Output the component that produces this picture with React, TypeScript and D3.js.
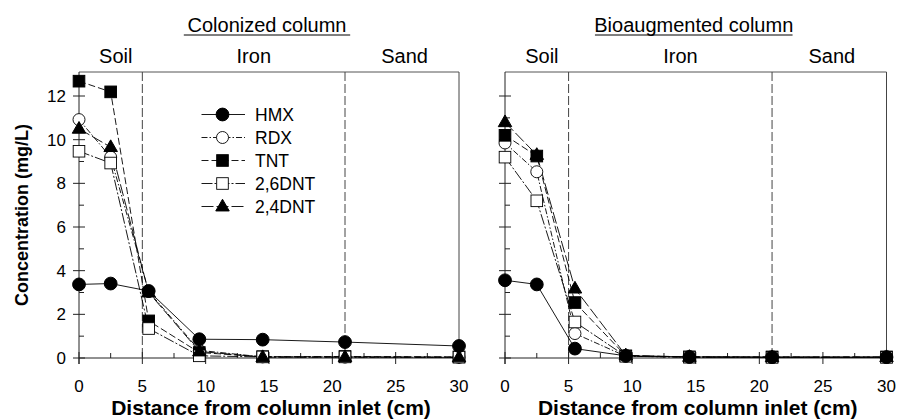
import React from "react";
import * as d3 from "d3";

const distances = [0, 2.5, 5.5, 9.5, 14.5, 21, 30];
const seriesNames = ["HMX", "RDX", "TNT", "2,6DNT", "2,4DNT"];

const colonizedHMX = [3.37, 3.41, 3.07, 0.86, 0.84, 0.73, 0.55];
const colonizedRDX = [10.92, 9.2, 3.05, 0.35, 0.05, 0.04, 0.03];
const colonizedTNT = [12.68, 12.19, 1.7, 0.25, 0.06, 0.07, 0.05];
const colonized26DNT = [9.47, 8.93, 1.35, 0.1, 0.05, 0.05, 0.04];
const colonized24DNT = [10.5, 9.66, 3.0, 0.3, 0.04, 0.04, 0.03];

const bioHMX = [3.56, 3.37, 0.43, 0.1, 0.05, 0.04, 0.04];
const bioRDX = [9.85, 8.53, 1.12, 0.08, 0.04, 0.03, 0.03];
const bioTNT = [10.2, 9.25, 2.54, 0.1, 0.05, 0.05, 0.05];
const bio26DNT = [9.2, 7.2, 1.65, 0.08, 0.04, 0.03, 0.03];
const bio24DNT = [10.8, 9.3, 3.18, 0.12, 0.05, 0.04, 0.04];

const xTicks = [0, 5, 10, 15, 20, 25, 30];
const yTicks = [0, 2, 4, 6, 8, 10, 12];
const zoneBoundaries = [5, 21];
const zoneLabels = ["Soil", "Iron", "Sand"];
const zoneCenters = [2.9, 13.8, 25.7];
const panelTitles = ["Colonized column", "Bioaugmented column"];

const W = 898;
const H = 419;
const FONT = "'Liberation Sans', Arial, Helvetica, sans-serif";

const markerKinds = ["circleFilled", "circleOpen", "squareFilled", "squareOpen", "triangleFilled"];
const dashes = ["none", "6,2,1.5,2", "7,3", "11,2,2,2", "12,3"];
// draw order: HMX last so it sits on top
const drawOrder = [1, 2, 3, 4, 0];

function Marker({ kind, x, y }: { kind: string; x: number; y: number }) {
  const stroke = "#000";
  if (kind === "circleFilled") return <circle cx={x} cy={y} r={6.4} fill="#000" stroke={stroke} />;
  if (kind === "circleOpen") return <circle cx={x} cy={y} r={6} fill="#fff" stroke={stroke} strokeWidth={0.9} />;
  if (kind === "squareFilled") return <rect x={x - 5.8} y={y - 5.8} width={11.6} height={11.6} fill="#000" stroke={stroke} />;
  if (kind === "squareOpen")
    return <rect x={x - 5.8} y={y - 5.8} width={11.6} height={11.6} fill="#fff" stroke={stroke} strokeWidth={0.9} />;
  const s = 13.5;
  const h = s * 0.866;
  const pts = `${x},${y - h * 0.62} ${x - s / 2},${y + h * 0.38} ${x + s / 2},${y + h * 0.38}`;
  return <polygon points={pts} fill="#000" stroke={stroke} />;
}

function Panel({
  x0,
  x1,
  title,
  data,
  showYLabels,
  showLegend,
}: {
  x0: number;
  x1: number;
  title: string;
  data: number[][];
  showYLabels: boolean;
  showLegend: boolean;
}) {
  const x = d3.scaleLinear().domain([0, 30]).range([x0, x1]);
  const y = d3.scaleLinear().domain([0, 13.1]).range([358, 72]);
  const yTop = y(13.1);
  const yBot = y(0);
  const line = d3
    .line<[number, number]>()
    .x((d) => x(d[0]))
    .y((d) => y(d[1]));
  const minorX = d3.range(2.5, 30, 5);
  const minorY = d3.range(1, 13, 2);
  const cx = (x0 + x1) / 2;
  const titleWidth = title.length * 10.4;
  return (
    <g>
      <text x={cx - 2} y={32} textAnchor="middle" fontSize={20} fontFamily={FONT}>
        {title}
      </text>
      <line x1={cx - 2 - titleWidth / 2} x2={cx - 2 + titleWidth / 2} y1={35} y2={35} stroke="#000" strokeWidth={1} />
      {zoneLabels.map((z, i) => (
        <text key={z} x={x(zoneCenters[i])} y={63} textAnchor="middle" fontSize={20} fontFamily={FONT}>
          {z}
        </text>
      ))}
      <line x1={x0} x2={x1} y1={yTop} y2={yTop} stroke="#555" strokeWidth={1} />
      <line x1={x1} x2={x1} y1={yTop} y2={yBot} stroke="#444" strokeWidth={1} />
      <line x1={x0} x2={x0} y1={yTop} y2={yBot + 6} stroke="#222" strokeWidth={1} />
      <line x1={x0} x2={x1} y1={yBot} y2={yBot} stroke="#222" strokeWidth={1} />
      {zoneBoundaries.map((b) => (
        <line key={b} x1={x(b)} x2={x(b)} y1={yTop} y2={yBot} stroke="#444" strokeWidth={1} strokeDasharray="9,3" />
      ))}
      {xTicks.map((t) => (
        <g key={t}>
          <line x1={x(t)} x2={x(t)} y1={yBot - 6} y2={yBot + 6} stroke="#222" />
          <text x={x(t)} y={392} textAnchor="middle" fontSize={17} fontFamily={FONT}>
            {t}
          </text>
        </g>
      ))}
      {minorX.map((t) => (
        <line key={t} x1={x(t)} x2={x(t)} y1={yBot - 5} y2={yBot} stroke="#222" />
      ))}
      {yTicks.map((t) => (
        <g key={t}>
          <line x1={x0 - 6} x2={x0 + 6} y1={y(t)} y2={y(t)} stroke="#222" />
          {showYLabels && (
            <text x={x0 - 13} y={y(t) + 6} textAnchor="end" fontSize={17} fontFamily={FONT}>
              {t}
            </text>
          )}
        </g>
      ))}
      {minorY.map((t) => (
        <line key={t} x1={x0} x2={x0 + 5} y1={y(t)} y2={y(t)} stroke="#222" />
      ))}
      <text x={cx + 2} y={415} textAnchor="middle" fontSize={21} fontWeight="bold" fontFamily={FONT}>
        Distance from column inlet (cm)
      </text>
      {drawOrder.map((i) => (
        <path
          key={seriesNames[i]}
          d={line(distances.map((d, j) => [d, data[i][j]] as [number, number])) || ""}
          fill="none"
          stroke="#000"
          strokeWidth={0.9}
          strokeDasharray={dashes[i]}
        />
      ))}
      {drawOrder.map((i) =>
        data[i].map((v, j) => <Marker key={`${i}-${j}`} kind={markerKinds[i]} x={x(distances[j])} y={y(v)} />)
      )}
      {showLegend &&
        seriesNames.map((n, i) => {
          const ly = 114.5 + i * 23;
          return (
            <g key={n}>
              <line x1={201.5} x2={245} y1={ly} y2={ly} stroke="#000" strokeWidth={0.9} strokeDasharray={dashes[i]} />
              <Marker kind={markerKinds[i]} x={222.5} y={ly} />
              <text x={255} y={ly + 6.5} fontSize={17.5} fontFamily={FONT}>
                {n}
              </text>
            </g>
          );
        })}
    </g>
  );
}

export default function App() {
  const colonized = [colonizedHMX, colonizedRDX, colonizedTNT, colonized26DNT, colonized24DNT];
  const bio = [bioHMX, bioRDX, bioTNT, bio26DNT, bio24DNT];
  return (
    <div style={{ position: "absolute", left: 0, top: 0 }}>
      <svg width={W} height={H} viewBox={`0 0 ${W} ${H}`} style={{ display: "block", background: "#fff" }}>
        <rect width={W} height={H} fill="#fff" />
        <text
          transform={`translate(28,215) rotate(-90)`}
          textAnchor="middle"
          fontSize={18}
          fontWeight="bold"
          fontFamily={FONT}
        >
          Concentration (mg/L)
        </text>
        <Panel x0={79} x1={459} title={panelTitles[0]} data={colonized} showYLabels={true} showLegend={true} />
        <Panel x0={505} x1={886.5} title={panelTitles[1]} data={bio} showYLabels={false} showLegend={false} />
      </svg>
    </div>
  );
}
